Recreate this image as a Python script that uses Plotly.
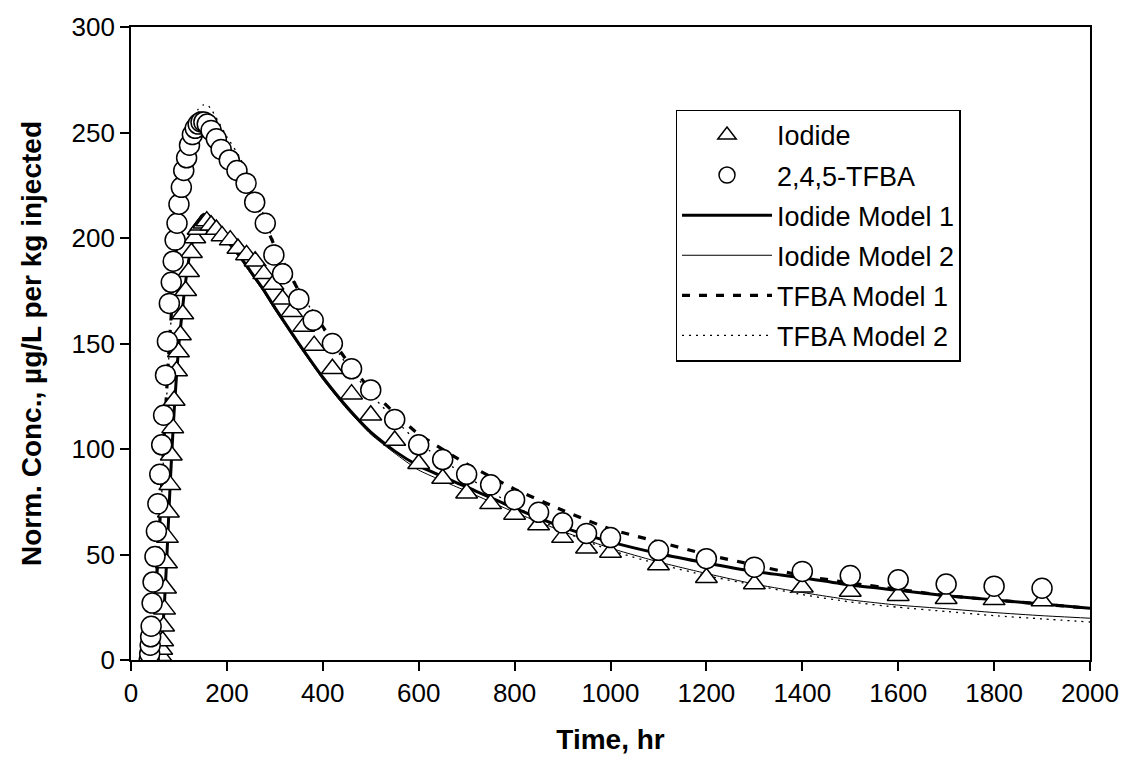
import plotly.graph_objects as go

# ---- data ----
iodide_t = [60, 62, 64, 66, 68, 70, 72, 74, 76, 78, 81, 84, 87, 90, 95, 99, 103, 108, 114, 120,
            126, 133, 140, 146, 152, 158, 167, 178, 190, 207, 223, 241, 259, 277, 296, 316, 335,
            360, 382, 420, 460, 500, 550, 600, 650, 700, 750, 800, 850, 900, 950, 1000,
            1100, 1200, 1300, 1400, 1500, 1600, 1700, 1800, 1900]
iodide_c = [0, 2, 5, 9, 16, 24, 34, 46, 58, 70, 83, 97, 110, 123, 137, 146, 154, 164, 175, 184,
            193, 200, 204, 206, 207, 208, 206, 204, 201, 199, 195, 192, 189, 183, 178, 171, 165,
            158, 149, 138, 126, 116, 104, 93, 86, 79, 74, 69, 64, 58, 53, 51,
            45, 39, 36, 34.5, 32.5, 30.5, 29, 28.5, 28]

tfba_t = [38, 39, 40, 41, 42, 44, 46, 50, 53, 56, 60, 64, 68, 72, 76, 80, 84, 88, 92, 96, 100,
          105, 110, 116, 122, 128, 134, 140, 146, 152, 159, 167, 178, 188, 205, 221, 240, 258,
          280, 298, 316, 350, 380, 420, 460, 500, 550, 600, 650, 700, 750, 800, 850, 900, 950,
          1000, 1100, 1200, 1300, 1400, 1500, 1600, 1700, 1800, 1900]
tfba_c = [0, 3, 7, 11, 16, 27, 37, 49, 61, 74, 88, 102, 116, 135, 151, 169, 179, 189, 199, 207, 216,
          224, 232, 238, 244, 249, 252, 254, 255, 255, 254, 251, 247, 242, 237, 232, 226, 217,
          207, 192, 183, 171, 161, 150, 138, 128, 114, 102, 95, 88, 83, 76, 70, 65, 60,
          58, 52, 48, 44, 42, 40, 38, 36, 35, 34]

model_t = [40, 45, 50, 55, 60, 65, 70, 75, 80, 85, 90, 95, 100, 110, 120, 130, 140, 150, 160, 170,
           180, 200, 225, 250, 275, 300, 350, 400, 450, 500, 550, 600, 700, 800, 900, 1000,
           1100, 1200, 1300, 1400, 1500, 1600, 1700, 1800, 1900, 2000]
iod_m1 = [0, 0, 0, 0, 3, 12, 28, 50, 75, 98, 118, 135, 150, 172, 189, 200, 207, 211, 211, 209,
          206, 199, 192, 184, 176, 167, 150, 134, 120, 108, 99, 92, 82, 72, 63, 56,
          50.5, 46, 42, 39, 35.5, 33, 30.5, 28.5, 26.5, 24.5]
iod_m2 = [0, 0, 0, 0, 2, 10, 26, 48, 73, 97, 118, 136, 151, 173, 190, 201, 208, 211, 211, 209,
          205, 198, 191, 183, 175, 166, 149, 133, 119, 107, 98, 90, 80, 70, 61, 53,
          46.5, 41, 36, 32, 28.5, 26, 24.3, 22.5, 21, 19.8]
tfba_m1 = [0, 8, 25, 45, 65, 88, 110, 130, 150, 167, 183, 197, 210, 230, 245, 254, 259, 260, 258, 255,
           252, 244, 233, 221, 209, 196, 175, 158, 142, 128, 117, 107, 93, 81, 71, 62,
           56, 50, 45, 40, 36.5, 33.5, 30.5, 28.5, 26.5, 24.5]
tfba_m2 = [0, 5, 20, 40, 60, 83, 105, 127, 148, 167, 185, 200, 213, 233, 248, 257, 261, 263, 263, 260,
           256, 248, 239, 227, 212, 197, 176, 157, 140, 126, 114, 103, 87, 73, 61, 52,
           45.5, 40, 35.5, 31, 27.5, 25, 23, 21, 19.5, 18]

x_ticks = [0, 200, 400, 600, 800, 1000, 1200, 1400, 1600, 1800, 2000]
y_ticks = [0, 50, 100, 150, 200, 250, 300]

FONT = "Liberation Sans, Arial, sans-serif"

fig = go.Figure()

lines = [
    ("Iodide Model 1", iod_m1, 3, "solid", 3),
    ("Iodide Model 2", iod_m2, 1, "solid", 4),
    ("TFBA Model 1", tfba_m1, 3.2, "8px,9px", 5),
    ("TFBA Model 2", tfba_m2, 1.3, "2px,5px", 6),
]
for name, vals, w, dash, rank in lines:
    fig.add_trace(go.Scatter(
        x=model_t, y=vals, mode="lines", name=name,
        line=dict(color="black", width=w, dash=dash, shape="spline", smoothing=0.5),
        legendrank=rank, legendgroup=name,
    ))

fig.add_trace(go.Scatter(
    x=iodide_t, y=iodide_c, mode="markers", name="Iodide",
    marker=dict(symbol="triangle-up", size=19, color="white",
                line=dict(color="black", width=1.5)),
    legendrank=1, legendgroup="Iodide",
))
fig.add_trace(go.Scatter(
    x=tfba_t, y=tfba_c, mode="markers", name="2,4,5-TFBA",
    marker=dict(symbol="circle", size=20, color="white",
                line=dict(color="black", width=1.5)),
    legendrank=2, legendgroup="TFBA",
))

fig.update_layout(
    width=1131, height=767,
    margin=dict(l=131, r=33, t=24, b=107),
    paper_bgcolor="white", plot_bgcolor="white",
    font=dict(family=FONT, size=26, color="black"),
    showlegend=True,
    legend=dict(
        x=0.568, y=0.8695, xanchor="left", yanchor="top",
        bordercolor="black", borderwidth=1.3, bgcolor="white",
        font=dict(family=FONT, size=27, color="black"),
        itemwidth=90, tracegroupgap=2, traceorder="grouped",
        itemsizing="trace",
    ),
    xaxis=dict(
        range=[0, 2000], tickvals=x_ticks, ticktext=[str(v) for v in x_ticks],
        ticks="outside", ticklen=9, tickwidth=1.5, tickcolor="black",
        showline=True, linecolor="black", linewidth=1.6, mirror=True,
        showgrid=False, zeroline=False,
        title=dict(text="<b>Time, hr</b>", font=dict(family=FONT, size=28), standoff=22),
    ),
    yaxis=dict(
        range=[0, 300], tickvals=y_ticks, ticktext=[str(v) for v in y_ticks],
        ticks="outside", ticklen=9, tickwidth=1.5, tickcolor="black",
        showline=True, linecolor="black", linewidth=1.6, mirror=True,
        showgrid=False, zeroline=False,
        title=dict(text="<b>Norm. Conc., µg/L per kg injected</b>", font=dict(family=FONT, size=28), standoff=22),
    ),
)

fig.write_html("out.html")
